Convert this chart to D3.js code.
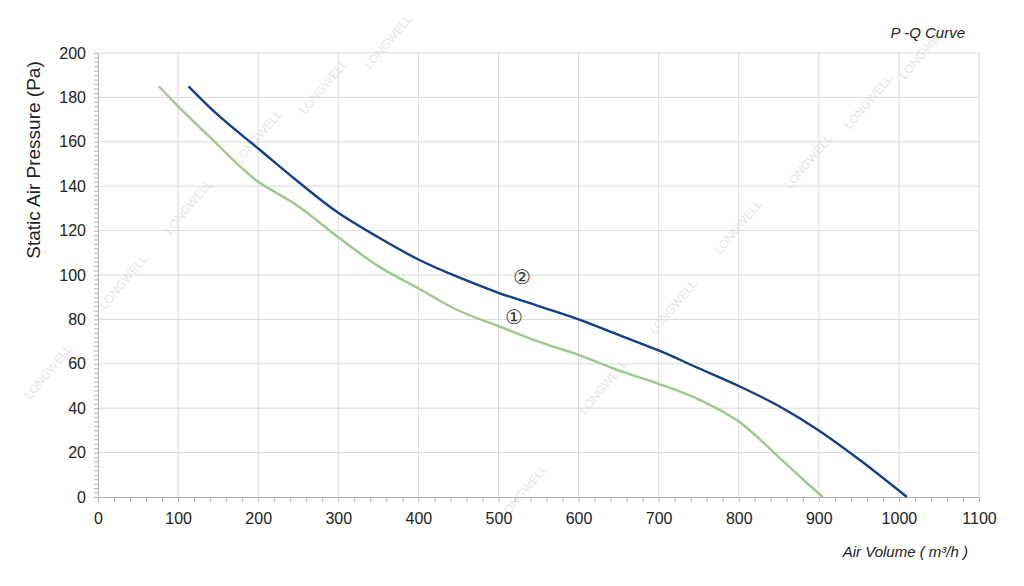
<!DOCTYPE html>
<html><head><meta charset="utf-8">
<script src="https://cdn.jsdelivr.net/npm/d3@7"></script>
<style>body{margin:0;background:#fff}text{font-family:"Liberation Sans",Arial,sans-serif}</style>
</head><body><svg id="c" width="1024" height="586"></svg>
<script>
// curve 1 (green) and curve 2 (blue), volume m3/h vs pressure Pa
const curve1Q = [76, 100, 140, 180, 200, 250, 300, 350, 400, 450, 500, 550, 600, 650, 700, 750, 800, 850, 880, 905];
const curve1P = [185, 176, 162, 148, 142, 131, 117, 104, 94, 84, 77, 70, 64, 57, 51, 44, 34, 18, 8, 0];
const curve2Q = [113, 150, 200, 250, 300, 350, 400, 450, 500, 550, 600, 650, 700, 750, 800, 850, 900, 950, 1010];
const curve2P = [185, 172, 157, 142, 128, 117, 107, 99, 92, 86, 80, 73, 66, 58, 50, 41, 30, 17, 0];
const xTicks = d3.range(0, 1101, 100);
const yTicks = d3.range(0, 201, 20);

const svg = d3.select('#c');
const x = d3.scaleLinear().domain([0, 1100]).range([98, 979]);
const y = d3.scaleLinear().domain([0, 200]).range([497, 53]);

// watermarks
const wm = svg.append('g').attr('fill', '#e6e6e6').attr('font-size', 12);
[[30,400],[105,310],[170,235],[240,165],[305,115],[370,70],[505,520],[585,415],[655,335],[720,255],[790,190],[850,130],[905,80]].forEach(([a, b]) => {
  wm.append('text').attr('transform', `translate(${a},${b}) rotate(-50)`).text('LONGWELL');
});

// grid
svg.append('g').selectAll('line').data(xTicks.slice(1)).join('line')
  .attr('x1', d => x(d)).attr('x2', d => x(d)).attr('y1', y(0)).attr('y2', y(200))
  .attr('stroke', '#d9d9d9');
svg.append('g').selectAll('line').data(yTicks.slice(1)).join('line')
  .attr('x1', x(0)).attr('x2', x(1100)).attr('y1', d => y(d)).attr('y2', d => y(d))
  .attr('stroke', '#d9d9d9');

// axes
const xa = svg.append('g').attr('transform', `translate(0,${y(0)})`)
  .call(d3.axisBottom(x).tickValues(d3.range(0, 1101, 20)).tickSize(5).tickFormat(''));
xa.selectAll('line,path').attr('stroke', '#b3b3b3');
const xl = svg.append('g').attr('transform', `translate(0,${y(0)})`)
  .call(d3.axisBottom(x).tickValues(xTicks).tickSize(0).tickPadding(16).tickFormat(d3.format('d')));
xl.select('path').remove();
xl.selectAll('text').attr('font-size', 16).attr('fill', '#222');

const ya = svg.append('g').attr('transform', `translate(${x(0)},0)`)
  .call(d3.axisLeft(y).tickValues(d3.range(0, 201, 2)).tickSize(4).tickFormat(''));
ya.selectAll('line,path').attr('stroke', '#b3b3b3');
const yl = svg.append('g').attr('transform', `translate(${x(0)},0)`)
  .call(d3.axisLeft(y).tickValues(yTicks).tickSize(0).tickPadding(12));
yl.select('path').remove();
yl.selectAll('text').attr('font-size', 16).attr('fill', '#222');

const line = d3.line().x(d => x(d[0])).y(d => y(d[1])).curve(d3.curveCatmullRom);
svg.append('path').datum(d3.zip(curve1Q, curve1P)).attr('d', line)
  .attr('fill', 'none').attr('stroke', '#9dc98a').attr('stroke-width', 2.4);
svg.append('path').datum(d3.zip(curve2Q, curve2P)).attr('d', line)
  .attr('fill', 'none').attr('stroke', '#133f85').attr('stroke-width', 2.4);

svg.append('text').attr('x', x(530)).attr('y', y(99)).attr('dy', '0.35em').attr('text-anchor', 'middle')
  .attr('font-size', 20).attr('fill', '#333').text('②');
svg.append('text').attr('x', x(520)).attr('y', y(81)).attr('dy', '0.35em').attr('text-anchor', 'middle')
  .attr('font-size', 20).attr('fill', '#333').text('①');

svg.append('text').attr('transform', 'translate(40,160) rotate(-90)').attr('text-anchor', 'middle')
  .attr('font-size', 19).attr('fill', '#222').text('Static Air Pressure  (Pa)');
svg.append('text').attr('x', 968).attr('y', 557).attr('text-anchor', 'end').attr('font-style', 'italic')
  .attr('font-size', 15).attr('fill', '#222').text('Air Volume ( m³/h )');
svg.append('text').attr('x', 965).attr('y', 38).attr('text-anchor', 'end').attr('font-style', 'italic')
  .attr('font-size', 15).attr('fill', '#222').text('P -Q Curve');
</script></body></html>
